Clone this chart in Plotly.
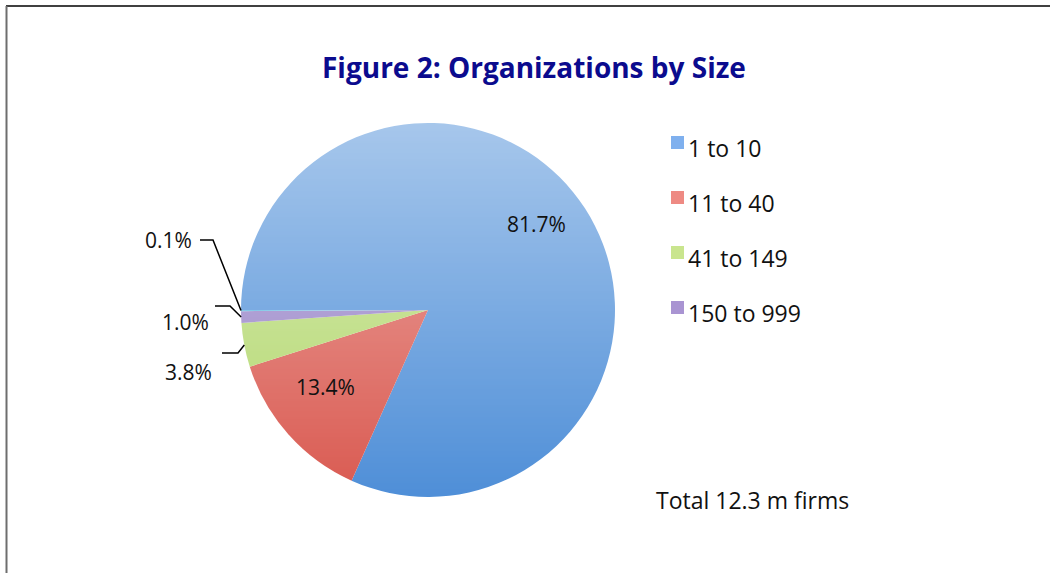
import math
import plotly.graph_objects as go

# ---- data ----
categories = ["1 to 10", "11 to 40", "41 to 149", "150 to 999", "1000+"]
shares = [81.7, 13.4, 3.8, 1.0, 0.1]
legend_labels = ["1 to 10", "11 to 40", "41 to 149", "150 to 999"]
slice_colors = ["#4F8FD8", "#DA5A51", "#B3D86E", "#9580C6", "#5CB8E0"]
legend_colors = ["#7FB0EE", "#EE8A83", "#C9E58E", "#A994D2"]
title_text = "Figure 2: Organizations by Size"
note_text = "Total 12.3 m firms"

W, H = 1050, 573
CX, CY, R = 428, 310, 187  # pie centre / radius in px


def px(x):
    return x / W


def py(y):
    return 1 - y / H


fig = go.Figure()
fig.add_trace(go.Pie(
    labels=categories,
    values=shares,
    sort=False,
    direction="clockwise",
    rotation=-90,
    marker=dict(colors=slice_colors, line=dict(width=0)),
    textinfo="none",
    hoverinfo="skip",
    showlegend=False,
    domain=dict(x=[px(CX - R), px(CX + R)], y=[py(CY + R), py(CY - R)]),
))

shapes = []
# soft vertical gradient (white overlay fading toward bottom), 2px bands on pixel boundaries
NB = R
for i in range(NB):
    y0 = CY - R + 2 * i
    y1 = y0 + 2
    a = 0.5 * (1 - (i + 0.5) / NB)
    shapes.append(dict(type="rect", xref="paper", yref="paper",
                       x0=px(CX - R - 2), x1=px(CX + R + 2), y0=py(y1), y1=py(y0),
                       fillcolor="white", opacity=a, line=dict(width=0), layer="above"))

# slice mid-angles (clockwise from 9 o'clock)
total = sum(shares)
mids = []
acc = 0
for v in shares:
    mids.append((acc + v / 2) / total * 360)
    acc += v


def edge_point(deg, rf=1.0):
    ang = math.radians(180 - deg)
    return CX + rf * R * math.cos(ang), CY - rf * R * math.sin(ang)


# labels
inside_pos = {0: (536, 224), 1: (325, 387)}
outside_pos = {2: (188, 372), 3: (185, 322), 4: (168, 240)}
leader = {2: (222, 238, 353), 3: (215, 230, 306), 4: (200, 213, 240)}

annotations = []
for i, v in enumerate(shares):
    txt = f"{v:.1f}%"
    if i in inside_pos:
        x, y = inside_pos[i]
    else:
        x, y = outside_pos[i]
        xs, xe, yl = leader[i]
        ex, ey = edge_point(mids[i])
        shapes.append(dict(type="path", xref="paper", yref="paper",
                           path=f"M {px(xs)} {py(yl)} L {px(xe)} {py(yl)} L {px(ex)} {py(ey)}",
                           line=dict(color="black", width=1.5), layer="above"))
    annotations.append(dict(x=px(x), y=py(y), xref="paper", yref="paper", text=txt,
                            xanchor="center", yanchor="middle",
                            showarrow=False, font=dict(family="Open Sans", size=21, color="#111111")))

# legend
for k, (lab, col) in enumerate(zip(legend_labels, legend_colors)):
    top = 136 + 55 * k
    shapes.append(dict(type="rect", xref="paper", yref="paper",
                       x0=px(671), x1=px(684), y0=py(top + 13), y1=py(top),
                       fillcolor=col, line=dict(width=0)))
    annotations.append(dict(x=px(686), y=py(top + 12), xref="paper", yref="paper", text=lab,
                            xanchor="left", yanchor="middle", showarrow=False,
                            font=dict(family="Open Sans", size=23, color="#111111")))

annotations.append(dict(x=px(752), y=py(500), xref="paper", yref="paper", text=note_text,
                        xanchor="center", yanchor="middle",
                        showarrow=False, font=dict(family="Open Sans", size=23, color="#111111")))
annotations.append(dict(x=px(534), y=py(67), xref="paper", yref="paper", text=f"<b>{title_text}</b>",
                        xanchor="center", yanchor="middle",
                        showarrow=False, font=dict(family="Open Sans", size=28, color="#0B0B8E")))

# frame (top and left edges)
shapes.append(dict(type="line", xref="paper", yref="paper", x0=px(6), x1=1, y0=py(6), y1=py(6),
                   line=dict(color="black", width=1.5)))
shapes.append(dict(type="line", xref="paper", yref="paper", x0=px(6.5), x1=px(6.5), y0=0, y1=py(6),
                   line=dict(color="#6E6E6E", width=2)))

fig.update_layout(
    width=W, height=H,
    margin=dict(l=0, r=0, t=0, b=0),
    paper_bgcolor="white", plot_bgcolor="white",
    shapes=shapes, annotations=annotations,
    showlegend=False,
)
fig.write_html("out.html",
               config={"displayModeBar": False},
               post_script="document.body.style.margin='0px';document.body.style.overflow='hidden';")
